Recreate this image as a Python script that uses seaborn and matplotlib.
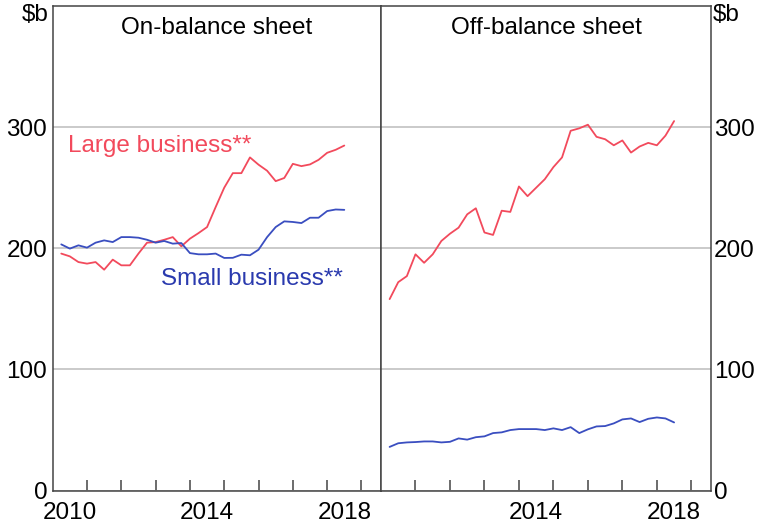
import numpy as np
import pandas as pd
import seaborn as sns
import matplotlib
matplotlib.use('Agg')
import matplotlib.pyplot as plt
from matplotlib.ticker import FixedLocator, NullFormatter, FixedFormatter

# quarterly dates, Mar-2010 .. Jun-2018 (plotted at quarter end)
dates = [2010.25 + 0.25 * i for i in range(34)]

on_large = [195.6, 193.3, 188.6, 187.3, 188.6, 182.3, 190.6, 185.9, 185.9, 195.6,
            204.6, 205.1, 207.0, 209.2, 201.6, 207.9, 212.5, 217.5, 234.0, 250.0,
            262.0, 262.0, 275.0, 269.0, 264.0, 255.4, 258.0, 269.7, 267.8, 269.2,
            273.0, 278.8, 281.3, 284.8]
on_small = [203.2, 199.7, 202.4, 200.5, 204.6, 206.5, 205.1, 209.2, 209.2, 208.7,
            207.0, 204.6, 206.0, 203.8, 204.3, 196.0, 195.0, 195.0, 195.6, 192.0,
            192.1, 194.7, 194.2, 198.8, 209.2, 217.5, 222.2, 221.7, 220.8, 225.2,
            225.2, 230.7, 232.0, 231.7]
off_large = [158, 172, 177, 195, 188, 195, 206, 212, 217, 228,
             233, 213, 211, 231, 230, 251, 243, 250, 257, 267,
             275, 297, 299, 302, 292, 290, 285, 289, 279, 284,
             287, 285, 293, 305]
off_small = [36.0, 39.0, 39.7, 40.0, 40.5, 40.5, 39.7, 40.2, 43.0, 42.0,
             44.0, 44.7, 47.4, 48.0, 49.9, 50.7, 50.7, 50.7, 49.9, 51.3,
             49.9, 52.3, 47.4, 50.5, 52.9, 53.2, 55.4, 58.7, 59.5, 56.5,
             59.2, 60.3, 59.5, 56.2]

panel_titles = ['On-balance sheet', 'Off-balance sheet']
y_ticks = [0, 100, 200, 300]
year_labels = ['2010', '2014', '2018']

RED = '#f24a5c'
BLUE = '#3a4ec0'
FS = 17.5

sns.set_theme(style='white')
plt.rcParams['font.family'] = ['Liberation Sans', 'DejaVu Sans']
plt.rcParams['font.size'] = FS
plt.rcParams['text.color'] = 'black'
plt.rcParams['xtick.color'] = 'black'
plt.rcParams['ytick.color'] = 'black'

rows = []
for d, a, b, c, e in zip(dates, on_large, on_small, off_large, off_small):
    rows.append({'date': d, 'value': a, 'series': 'Large', 'panel': 0})
    rows.append({'date': d, 'value': b, 'series': 'Small', 'panel': 0})
    rows.append({'date': d, 'value': c, 'series': 'Large', 'panel': 1})
    rows.append({'date': d, 'value': e, 'series': 'Small', 'panel': 1})
df = pd.DataFrame(rows)

fig = plt.figure(figsize=(7.57, 5.32), dpi=100)
x0, xm, x1 = 52.7 / 757, 381 / 757, 711 / 757
bot, top = 1 - 490.5 / 532, 1 - 6 / 532
axes = [fig.add_axes([x0, bot, xm - x0, top - bot]),
        fig.add_axes([xm, bot, x1 - xm, top - bot])]

for i, ax in enumerate(axes):
    sub = df[df['panel'] == i]
    sns.lineplot(data=sub, x='date', y='value', hue='series',
                 palette={'Large': RED, 'Small': BLUE}, linewidth=1.3,
                 legend=False, ax=ax)
    ax.set_xlim(2010.0, 2019.57)
    ax.set_ylim(0, 400)
    ax.set_xlabel('')
    ax.set_ylabel('')
    ax.set_yticks(y_ticks)
    ax.yaxis.grid(True, color='#c6c6c6', linewidth=1.3)
    ax.xaxis.grid(False)
    ax.set_axisbelow(True)
    for s in ax.spines.values():
        s.set_color('#444444')
        s.set_linewidth(1.1)
        s.set_visible(True)

    # year ticks at boundaries, labels centred in the year
    ax.xaxis.set_major_locator(FixedLocator(list(range(2011, 2020))))
    ax.xaxis.set_major_formatter(NullFormatter())
    labs = year_labels if i == 0 else year_labels[1:]
    ax.xaxis.set_minor_locator(FixedLocator([int(l) + 0.5 for l in labs]))
    ax.xaxis.set_minor_formatter(FixedFormatter(labs))
    ax.tick_params(axis='x', which='major', direction='in', length=8, width=1.1,
                   color='#444444', bottom=True)
    ax.tick_params(axis='x', which='minor', length=0, pad=8, labelsize=FS,
                   bottom=True)
    ax.text(0.5, 0.977, panel_titles[i], transform=ax.transAxes,
            ha='center', va='top', fontsize=FS)

ax0, ax1 = axes
ax0.tick_params(axis='y', length=0, pad=4, labelsize=FS, left=True, right=False)
ax1.tick_params(axis='y', length=0, pad=2, labelsize=FS, left=False, right=True,
                labelleft=False, labelright=True)
ax0.text(-0.012, 1.004, r'\$b', transform=ax0.transAxes, ha='right', va='top', fontsize=FS)
ax1.text(1.005, 1.004, r'\$b', transform=ax1.transAxes, ha='left', va='top', fontsize=FS)

ax0.text(2010.44, 284.6, 'Large business**', color=RED, fontsize=FS, va='center')
ax0.text(2013.17, 174.4, 'Small business**', color='#2a3aae', fontsize=FS, va='center')

fig.savefig('out.png', dpi=100)
